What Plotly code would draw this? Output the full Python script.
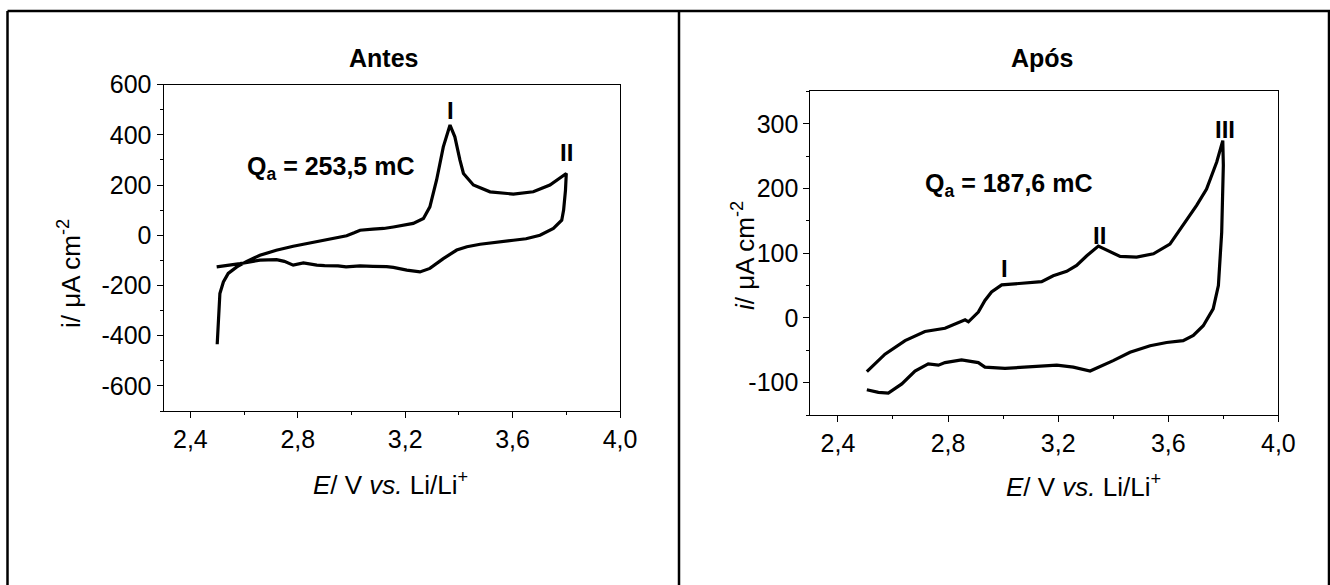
import plotly.graph_objects as go

# ---------------- data ----------------
# Left panel "Antes": anodic sweep (2.5 -> 3.8 V) then cathodic sweep (3.8 -> 2.5 V)
antes_E_fwd = [2.500, 2.504, 2.510, 2.523, 2.541, 2.573, 2.610, 2.659, 2.720, 2.783, 2.850,
               2.908, 2.982, 3.010, 3.032, 3.080, 3.120, 3.156, 3.200, 3.230, 3.268, 3.292,
               3.317, 3.342, 3.367, 3.385, 3.404, 3.417, 3.454, 3.516, 3.603, 3.677, 3.739, 3.800]
antes_i_fwd = [-434, -325, -232, -186, -152, -126, -104, -80, -60, -44, -30,
               -16, -2, 10, 20, 24, 27, 33, 40, 47, 67, 113,
               220, 352, 439, 392, 299, 246, 200, 173, 164, 173, 200, 246]
antes_E_rev = [3.800, 3.797, 3.790, 3.783, 3.752, 3.702, 3.650, 3.603, 3.540, 3.479, 3.430,
               3.392, 3.342, 3.292, 3.255, 3.206, 3.156, 3.131, 3.080, 3.032, 2.980, 2.950,
               2.900, 2.871, 2.821, 2.800, 2.783, 2.750, 2.721, 2.659, 2.585, 2.498]
antes_i_rev = [246, 180, 100, 60, 27, 0, -14, -20, -28, -36, -46,
               -59, -93, -132, -146, -139, -128, -125, -124, -122, -126, -122,
               -121, -119, -110, -114, -119, -104, -97, -99, -113, -126]

# Right panel "Após"
apos_E_fwd = [2.505, 2.571, 2.644, 2.716, 2.789, 2.825, 2.862, 2.874, 2.892, 2.910, 2.934,
              2.958, 2.995, 3.068, 3.140, 3.182, 3.231, 3.267, 3.304, 3.346, 3.382, 3.425,
              3.485, 3.546, 3.606, 3.654, 3.703, 3.739, 3.776, 3.798]
apos_i_fwd = [-83, -56, -35, -21, -16, -9, -3, -6, 1, 9, 27,
              40, 51, 54, 56, 65, 72, 81, 96, 111, 104, 95,
              94, 99, 114, 143, 174, 199, 241, 274]
apos_E_rev = [3.800, 3.794, 3.782, 3.763, 3.727, 3.691, 3.654, 3.594, 3.534, 3.461, 3.400,
              3.316, 3.255, 3.195, 3.134, 3.068, 3.007, 2.934, 2.910, 2.849, 2.789, 2.765,
              2.728, 2.680, 2.632, 2.583, 2.547, 2.505]
apos_i_rev = [236, 132, 50, 14, -12, -27, -35, -38, -43, -53, -66,
              -82, -76, -73, -75, -76, -78, -76, -69, -65, -69, -73,
              -71, -82, -102, -116, -115, -111]

x_tickvals = [2.4, 2.8, 3.2, 3.6, 4.0]
x_ticktext = ["2,4", "2,8", "3,2", "3,6", "4,0"]
left_y_tickvals = [600, 400, 200, 0, -200, -400, -600]
left_y_ticktext = ["600", "400", "200", "0", "-200", "-400", "-600"]
right_y_tickvals = [300, 200, 100, 0, -100]
right_y_ticktext = ["300", "200", "100", "0", "-100"]

titles = ["Antes", "Após"]
charge_left = "Q<sub>a</sub> = 253,5 mC"
charge_right = "Q<sub>a</sub> = 187,6 mC"

# ---------------- figure ----------------
W, H = 1330, 585
FONT = "Liberation Sans, Arial, sans-serif"
TXT = 25


def px(x):
    return x / W


def py(y):
    return 1 - y / H


fig = go.Figure()
fig.add_trace(go.Scatter(x=antes_E_fwd + antes_E_rev, y=antes_i_fwd + antes_i_rev,
                         mode="lines", line=dict(color="black", width=3.2),
                         xaxis="x", yaxis="y", showlegend=False))
fig.add_trace(go.Scatter(x=apos_E_fwd + apos_E_rev, y=apos_i_fwd + apos_i_rev,
                         mode="lines", line=dict(color="black", width=3.2),
                         xaxis="x2", yaxis="y2", showlegend=False))

axis_common = dict(showline=True, linecolor="black", linewidth=1, mirror=True,
                   ticks="outside", ticklen=6, tickwidth=1, tickcolor="black",
                   showgrid=False, zeroline=False, automargin=False,
                   tickfont=dict(family=FONT, size=TXT, color="black"))

fig.update_layout(
    template="none",
    width=W, height=H, autosize=False, margin=dict(l=0, r=0, t=0, b=0, pad=0),
    paper_bgcolor="white", plot_bgcolor="white", showlegend=False,
    font=dict(family=FONT, color="black"),
    xaxis=dict(domain=[px(163.5), px(620)], range=[2.3, 4.0], anchor="y",
               tickvals=x_tickvals, ticktext=x_ticktext,
               minor=dict(dtick=0.2, tick0=2.4, ticks="outside", ticklen=3, tickcolor="black"),
               **axis_common),
    yaxis=dict(domain=[py(411), py(84.6)], range=[-700, 600], anchor="x",
               tickvals=left_y_tickvals, ticktext=left_y_ticktext,
               minor=dict(dtick=100, tick0=0, ticks="outside", ticklen=3, tickcolor="black"),
               **axis_common),
    xaxis2=dict(domain=[px(810.4), px(1278.4)], range=[2.3, 4.0], anchor="y2",
                tickvals=x_tickvals, ticktext=x_ticktext,
                minor=dict(dtick=0.2, tick0=2.4, ticks="outside", ticklen=3, tickcolor="black"),
                **axis_common),
    yaxis2=dict(domain=[py(415), py(91.4)], range=[-150, 350], anchor="x2",
                tickvals=right_y_tickvals, ticktext=right_y_ticktext,
                minor=dict(dtick=50, tick0=0, ticks="outside", ticklen=3, tickcolor="black"),
                **axis_common),
)

ann = []


def add_text(x, y, text, size=TXT, bold=False, angle=0):
    t = f"<b>{text}</b>" if bold else text
    ann.append(dict(x=px(x), y=py(y), xref="paper", yref="paper", text=t,
                    showarrow=False, xanchor="center", yanchor="middle",
                    textangle=angle, font=dict(family=FONT, size=size, color="black")))


# Left panel texts
add_text(383, 58, titles[0], bold=True)
add_text(330, 168, charge_left, bold=True)
add_text(451, 110, "I", size=24, bold=True)
add_text(566, 153, "II", size=24, bold=True)
add_text(390, 484, "<i>E</i>/ V <i>vs.</i> Li/Li<sup>+</sup>", size=26)
add_text(69, 274, "i/ μA cm<sup>-2</sup>", size=26, angle=-90)

# Right panel texts
add_text(1042, 58, titles[1], bold=True)
add_text(1008, 185, charge_right, bold=True)
add_text(1004, 269, "I", size=24, bold=True)
add_text(1099, 235, "II", size=24, bold=True)
add_text(1225, 129, "III", size=24, bold=True)
add_text(1083, 485, "<i>E</i>/ V <i>vs.</i> Li/Li<sup>+</sup>", size=26)
add_text(743, 256, "<i>i</i>/ μA cm<sup>-2</sup>", size=26, angle=-90)

fig.update_layout(annotations=ann)

# Frame lines (table-like border)
border = dict(type="line", xref="paper", yref="paper", line=dict(color="black", width=2.5))
fig.add_shape(x0=px(7.5), x1=px(1330), y0=py(11), y1=py(11), **border)
fig.add_shape(x0=px(7.5), x1=px(7.5), y0=py(11), y1=0, **border)
fig.add_shape(x0=px(679), x1=px(679), y0=py(11), y1=0, **border)
fig.add_shape(x0=px(1329), x1=px(1329), y0=py(11), y1=0, **border)

# pin the plot to the top-left corner of the page (no body margin)
pin_js = ("document.body.style.margin='0';document.body.style.overflow='hidden';"
          "var d=document.getElementById('{plot_id}');"
          "d.style.position='fixed';d.style.top='0px';d.style.left='0px';")

fig.write_html("out.html", post_script=pin_js,
               config={"displayModeBar": False, "responsive": False})
